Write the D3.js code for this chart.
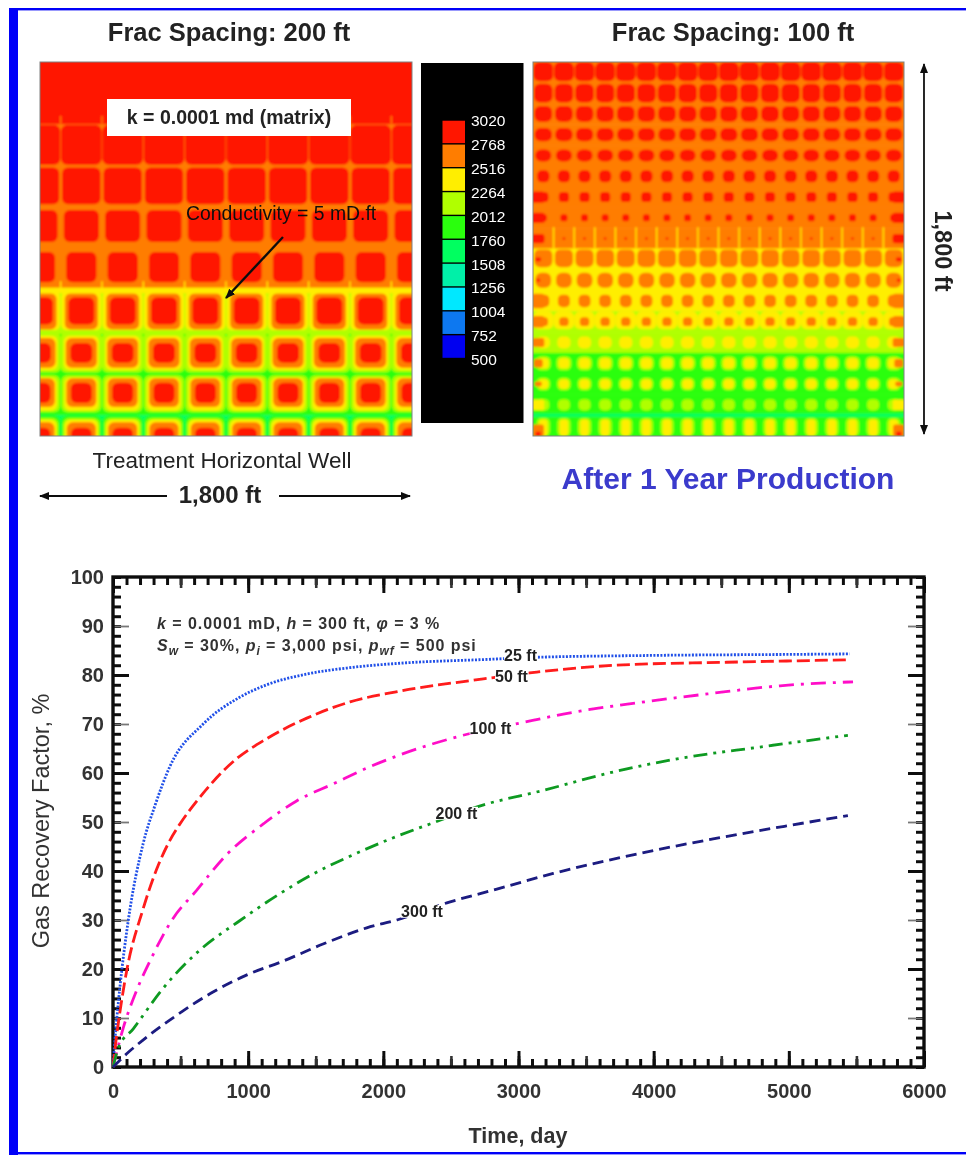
<!DOCTYPE html>
<html>
<head>
<meta charset="utf-8">
<script src="https://cdn.jsdelivr.net/npm/d3@7/dist/d3.min.js"></script>
<style>
  html, body { margin: 0; padding: 0; background: #fff; }
  svg { display: block; font-family: "Liberation Sans", Arial, sans-serif; }
</style>
</head>
<body>
<svg id="figure" width="966" height="1155"></svg>
<script>
// --- Pressure legend (psi) ---
const legendValues = [3020, 2768, 2516, 2264, 2012, 1760, 1508, 1256, 1004, 752, 500];
const legendColors = ["#0000f0", "#0878f0", "#00e8ff", "#00f0a8", "#00ff60", "#2cff10", "#b0ff00", "#ffee00", "#ff7d00", "#ff1400"];

// --- Fracture maps: each row is [y ft, background psi, [psi, half width, above, below] ...] ---
const rows200 = [
  [1600, 2900],
  [1400, 2640, [2900, 98, 97, 95]],
  [1200, 2640, [2900, 93, 92, 85]],
  [1000, 2640, [2900, 85, 88, 66]],
  [800, 2640, [2900, 73, 86, 60]],
  [600, 2140, [2390, 97, 100, 92], [2640, 80, 87, 87], [2900, 63, 68, 63]],
  [400, 1890, [2140, 100, 100, 94], [2390, 85, 82, 82], [2640, 75, 72, 72], [2900, 53, 48, 48]],
  [200, 1890, [2140, 96, 92, 84], [2390, 82, 82, 77], [2640, 72, 78, 60], [2900, 51, 56, 41]],
  [0, 1630, [1890, 97, 97, 100], [2140, 88, 85, 100], [2390, 80, 78, 100], [2640, 70, 66, 100], [2900, 50, 40, 100]]
];
const rows100 = [
  [1750, 2640, [2900, 48, 50, 43]],
  [1650, 2640, [2900, 45, 45, 45]],
  [1550, 2640, [2900, 43, 38, 38]],
  [1450, 2640, [2900, 42, 32, 32]],
  [1350, 2640, [2900, 39, 29, 29]],
  [1250, 2640, [2900, 30, 29, 29]],
  [1150, 2640, [2900, 25, 24, 24]],
  [1050, 2640, [2900, 17, 17, 17]],
  [950, 2640, [2900, 7, 5, 5]],
  [850, 2390, [2640, 44, 50, 38]],
  [750, 2390, [2640, 38, 36, 36]],
  [650, 2390, [2640, 29, 30, 30]],
  [550, 2140, [2390, 50, 50, 36], [2640, 23, 21, 21]],
  [450, 2140, [2390, 32, 29, 29]],
  [350, 1890, [2140, 36, 34, 34], [2390, 26, 24, 24]],
  [250, 1890, [2140, 33, 30, 30], [2390, 24, 22, 22]],
  [150, 1890, [2140, 29, 27, 27]],
  [50, 1890, [2140, 32, 36, 50], [2390, 20, 30, 50]]
];
const blocks200 = [0, 200, 400, 600, 800, 1000, 1200, 1400, 1600, 1800];
const blocks100 = [50, 150, 250, 350, 450, 550, 650, 750, 850, 950, 1050, 1150, 1250, 1350, 1450, 1550, 1650, 1750];
const fractures200 = [100, 300, 500, 700, 900, 1100, 1300, 1500, 1700];
const fractures100 = [100, 200, 300, 400, 500, 600, 700, 800, 900, 1000, 1100, 1200, 1300, 1400, 1500, 1600, 1700];
// horizontal fracture bands [y ft, half thickness, psi], vertical stubs [y0, y1, psi]
const bands200 = [[700, 14, 2390], [500, 9, 2140]];
const stubs200 = [[1500, 1540, 2640], [700, 745, 2390]];
const bands100 = [[900, 3, 2390], [100, 8, 1630]];
const stubs100 = [[900, 1005, 2390]];
// edge columns of the 100 ft map: [y ft, psi, half width, half height]
const edges100 = [
  [1150, 2900, 32, 27], [1050, 2900, 32, 25], [950, 2900, 30, 22], [850, 2900, 15, 10], [750, 2900, 10, 8],
  [650, 2640, 30, 35], [550, 2640, 30, 28], [450, 2640, 30, 22], [350, 2640, 22, 20], [250, 2640, 18, 12],
  [150, 2390, 30, 26], [25, 2640, 28, 30], [10, 2900, 14, 12]
];

// --- Gas recovery curves: [time day, recovery %] ---
const curve25 = [[0, 0], [10, 4], [25, 9], [50, 16], [113, 29.9], [224, 45.7], [311, 53.4], [422, 61.4], [667, 70], [940, 75.5], [1137, 78], [1434, 80.2], [1753, 81.5], [2123, 82.4], [2863, 83.3], [3000, 83.5], [4000, 84], [5000, 84.2], [5450, 84.3]];
const curve50 = [[0, 0], [25, 6], [50, 11], [101, 19.6], [222, 32.2], [325, 40.5], [422, 46.3], [500, 49.8], [621, 54.3], [888, 62.3], [1137, 67], [1434, 71.2], [1753, 74.5], [2123, 76.7], [2740, 79.2], [3135, 80.6], [3720, 82], [4540, 82.6], [5450, 83.1]];
const curve100 = [[0, 0], [76, 8], [176, 15.7], [287, 22.4], [434, 29.9], [620, 36.1], [840, 43.3], [1112, 49.6], [1358, 54.3], [1630, 57.8], [1877, 61], [2123, 63.7], [2590, 67.7], [3012, 70.2], [3405, 72.4], [3900, 74.4], [4417, 76.2], [4934, 77.8], [5475, 78.6]];
const curve200 = [[0, 0], [40, 3.9], [150, 7.8], [372, 16.1], [644, 23.9], [940, 29.9], [1236, 35.4], [1509, 39.8], [1776, 43.3], [2074, 46.8], [2345, 49.6], [2742, 53.5], [3160, 56.3], [3700, 60.2], [4195, 63], [4787, 65.3], [5437, 67.7]];
const curve300 = [[0, 0], [101, 2.7], [222, 5.5], [473, 10.6], [740, 15.3], [991, 18.8], [1258, 21.6], [1554, 25.1], [1877, 28.4], [2100, 30], [2470, 33.5], [2840, 36.3], [3257, 39.5], [3847, 43.3], [4490, 46.8], [4983, 49.2], [5437, 51.3]];
const curves = [
  { data: curve25, color: "#2050e8", dash: "2,1.5" },
  { data: curve50, color: "#ff1a1a", dash: "13,5" },
  { data: curve100, color: "#ff10c8", dash: "15,7,3,7" },
  { data: curve200, color: "#109a20", dash: "14,6,3,6,3,6" },
  { data: curve300, color: "#1a1a80", dash: "11,6" }
];
// labels sit at [time, recovery] on their curve
const curveLabels = [
  { text: "25 ft", t: 3015, rf: 83.9 },
  { text: "50 ft", t: 2948, rf: 79.8 },
  { text: "100 ft", t: 2793, rf: 69.2 },
  { text: "200 ft", t: 2541, rf: 51.8 },
  { text: "300 ft", t: 2286, rf: 31.8 }
];
const xLabels = [0, 1000, 2000, 3000, 4000, 5000, 6000];
const yLabels = [0, 10, 20, 30, 40, 50, 60, 70, 80, 90, 100];

const svg = d3.select("#figure");
const defs = svg.append("defs");

defs.append("marker")
  .attr("id", "head")
  .attr("viewBox", "0 0 10 8")
  .attr("refX", 9)
  .attr("refY", 4)
  .attr("markerWidth", 10)
  .attr("markerHeight", 8)
  .attr("markerUnits", "userSpaceOnUse")
  .attr("orient", "auto-start-reverse")
  .append("path")
  .attr("d", "M0,0L10,4L0,8Z")
  .attr("fill", "#111");

// scan-like softness: everything a little, the maps a little more
function softFilter(id, amount) {
  defs.append("filter")
    .attr("id", id)
    .attr("filterUnits", "userSpaceOnUse")
    .attr("x", 0).attr("y", 0).attr("width", 966).attr("height", 1155)
    .append("feGaussianBlur")
    .attr("stdDeviation", amount);
}
softFilter("soft", 0.75);
softFilter("softer", 0.8);

const root = svg.append("g").attr("filter", "url(#soft)");
const textLayer = svg.append("g").attr("filter", "url(#soft)");

const color = d3.scaleThreshold()
  .domain(legendValues.slice(0, -1).reverse())
  .range(legendColors);

function drawField(xRange, rows, blocks, fractures, bands, stubs, rowHalf, round, maxRound) {
  const x = d3.scaleLinear().domain([0, 1800]).range(xRange);
  const y = d3.scaleLinear().domain([0, 1800]).range([436, 62]);

  const g = root.append("g").attr("filter", "url(#softer)");

  // row backgrounds
  g.selectAll("rect.strip")
    .data(rows)
    .enter()
    .append("rect")
    .attr("class", "strip")
    .attr("x", xRange[0] - 5)
    .attr("width", xRange[1] - xRange[0] + 10)
    .attr("y", d => y(d[0] === rows[0][0] ? 1840 : d[0] + rowHalf))
    .attr("height", d => y(d[0] === rows[rows.length - 1][0] ? -40 : d[0] - rowHalf) - y(d[0] === rows[0][0] ? 1840 : d[0] + rowHalf) + 0.5)
    .attr("fill", d => color(d[1]));

  // contour islands, outer to inner
  const islands = rows.flatMap(r => r.slice(2).flatMap(l => blocks.map(cx => ({
    cx, cy: r[0], p: l[0], hw: l[1], above: l[2], below: l[3]
  }))));

  g.selectAll("rect.island")
    .data(islands)
    .enter()
    .append("rect")
    .attr("class", "island")
    .attr("x", d => x(d.cx - d.hw))
    .attr("width", d => x(d.cx + d.hw) - x(d.cx - d.hw))
    .attr("y", d => y(d.cy + d.above))
    .attr("height", d => y(d.cy - d.below) - y(d.cy + d.above))
    .attr("rx", d => Math.min(maxRound, round * (x(d.cx + d.hw) - x(d.cx - d.hw))))
    .attr("fill", d => color(d.p));

  // fracture bands and stubs
  g.selectAll("rect.band")
    .data(bands)
    .enter()
    .append("rect")
    .attr("class", "band")
    .attr("x", xRange[0] - 5)
    .attr("width", xRange[1] - xRange[0] + 10)
    .attr("y", d => y(d[0] + d[1]))
    .attr("height", d => y(d[0] - d[1]) - y(d[0] + d[1]))
    .attr("fill", d => color(d[2]));

  stubs.forEach(s => {
    g.selectAll(null)
      .data(fractures)
      .enter()
      .append("line")
      .attr("x1", d => x(d)).attr("x2", d => x(d))
      .attr("y1", y(s[0])).attr("y2", y(s[1]))
      .attr("stroke", color(s[2]))
      .attr("stroke-width", 1.4);
  });

  return { g, x, y, xRange };
}

// white frame hides what runs past the map edge
function trimField(field) {
  const [x0, x1] = field.xRange;
  const w = 24;
  [[x0 - w, 62 - w, x1 - x0 + 2 * w, w], [x0 - w, 436, x1 - x0 + 2 * w, w],
   [x0 - w, 62 - w, w, 374 + 2 * w], [x1, 62 - w, w, 374 + 2 * w]].forEach(r => {
    root.append("rect")
      .attr("x", r[0]).attr("y", r[1]).attr("width", r[2]).attr("height", r[3])
      .attr("fill", "#fff");
  });
  root.append("rect")
    .attr("x", x0).attr("y", 62)
    .attr("width", x1 - x0).attr("height", 374)
    .attr("fill", "none")
    .attr("stroke", "#808080")
    .attr("stroke-width", 1);
}

const map200 = drawField([40, 412], rows200, blocks200, fractures200, bands200, stubs200, 100, 0.3, 6);
const map100 = drawField([533, 904], rows100, blocks100, fractures100, bands100, stubs100, 50, 0.38, 6);

// edge blocks of the 100 ft map
[25, 1775].forEach(cx => {
  map100.g.selectAll(null)
    .data(edges100)
    .enter()
    .append("rect")
    .attr("x", d => map100.x(cx - d[2]))
    .attr("width", d => map100.x(cx + d[2]) - map100.x(cx - d[2]))
    .attr("y", d => map100.y(d[0] + d[3]))
    .attr("height", d => map100.y(d[0] - d[3]) - map100.y(d[0] + d[3]))
    .attr("rx", 2.5)
    .attr("fill", d => color(d[1]));
});

trimField(map200);
trimField(map100);

// --- Blue page frame ---
root.append("rect").attr("x", 9).attr("y", 8).attr("width", 9).attr("height", 1147).attr("fill", "#0000f8");
root.append("rect").attr("x", 9).attr("y", 8).attr("width", 957).attr("height", 2.4).attr("fill", "#0000f8");
root.append("rect").attr("x", 9).attr("y", 1152).attr("width", 957).attr("height", 2.4).attr("fill", "#0000f8");

// --- Colour bar ---
root.append("rect").attr("x", 421).attr("y", 63).attr("width", 102.5).attr("height", 360).attr("fill", "#000");

const legendY = d3.scaleLinear().domain([3020, 500]).range([120, 358.5]);
const legendCells = d3.pairs(legendValues);

root.selectAll("rect.cell")
  .data(legendCells)
  .enter()
  .append("rect")
  .attr("class", "cell")
  .attr("x", 442.5)
  .attr("width", 22.5)
  .attr("y", d => legendY(d[0]) + 0.7)
  .attr("height", d => legendY(d[1]) - legendY(d[0]) - 1.4)
  .attr("fill", d => color((d[0] + d[1]) / 2));

textLayer.append("g")
  .attr("transform", "translate(471,1)")
  .call(d3.axisRight(legendY).tickValues(legendValues).tickSize(0).tickPadding(0).tickFormat(d3.format("d")))
  .call(a => a.select(".domain").remove())
  .selectAll("text")
  .attr("fill", "#fff")
  .style("font-size", "15.5px")
  .style("font-family", "Liberation Sans");

// --- Map annotations ---
function label(text, x, y, size, weight, anchor, fill) {
  return textLayer.append("text")
    .attr("x", x).attr("y", y)
    .attr("text-anchor", anchor || "start")
    .attr("fill", fill || "#222")
    .style("font-size", size + "px")
    .style("font-weight", weight)
    .text(text);
}

function arrow(x1, y1, x2, y2, width) {
  root.append("line")
    .attr("x1", x1).attr("y1", y1).attr("x2", x2).attr("y2", y2)
    .attr("stroke", "#111")
    .attr("stroke-width", width)
    .attr("marker-end", "url(#head)");
}

label("Frac Spacing: 200 ft", 229, 41, 25.5, "bold", "middle");
label("Frac Spacing: 100 ft", 733, 41, 25.5, "bold", "middle");

root.append("rect").attr("x", 107).attr("y", 99).attr("width", 244).attr("height", 37).attr("fill", "#fff");
label("k = 0.0001 md (matrix)", 229, 124, 19.5, "bold", "middle");
label("Conductivity = 5 mD.ft", 186, 220, 19.4, "normal", "start", "#111");
arrow(283, 237, 226, 298, 2.4);

label("Treatment Horizontal Well", 222, 468, 22.5, "normal", "middle");
label("1,800 ft", 220, 503, 24, "bold", "middle");
arrow(167, 496, 40, 496, 1.8);
arrow(279, 496, 410, 496, 1.8);

arrow(924, 100, 924, 64, 1.8);
arrow(924, 100, 924, 434, 1.8);
textLayer.append("text")
  .attr("transform", "translate(935,251) rotate(90)")
  .attr("text-anchor", "middle")
  .attr("fill", "#222")
  .style("font-size", "23.5px")
  .style("font-weight", "bold")
  .text("1,800 ft");

label("After 1 Year Production", 728, 489, 30, "bold", "middle", "#3a3acc");

// --- Recovery chart ---
const margin = { top: 577, right: 42, bottom: 88, left: 113 };
const plotWidth = 966 - margin.left - margin.right;
const plotHeight = 1155 - margin.top - margin.bottom;

const g = root.append("g").attr("transform", `translate(${margin.left},${margin.top})`);
const gText = textLayer.append("g").attr("transform", `translate(${margin.left},${margin.top})`);

const x = d3.scaleLinear().domain([0, 6000]).range([0, plotWidth]);
const y = d3.scaleLinear().domain([0, 100]).range([plotHeight, 0]);

const line = d3.line()
  .x(d => x(d[0]))
  .y(d => y(d[1]))
  .curve(d3.curveMonotoneX);

function ticks(values, length, width, stroke) {
  const styleAxis = a => {
    a.select(".domain").remove();
    a.selectAll("text").remove();
    a.selectAll("line").attr("stroke", stroke).attr("stroke-width", width);
  };
  g.append("g").attr("transform", `translate(0,${plotHeight})`)
    .call(d3.axisBottom(x).tickValues(values.x).tickSize(-length)).call(styleAxis);
  g.append("g")
    .call(d3.axisTop(x).tickValues(values.x).tickSize(-length)).call(styleAxis);
  g.append("g")
    .call(d3.axisLeft(y).tickValues(values.y).tickSize(-length)).call(styleAxis);
  g.append("g").attr("transform", `translate(${plotWidth},0)`)
    .call(d3.axisRight(y).tickValues(values.y).tickSize(-length)).call(styleAxis);
}

ticks({ x: d3.range(0, 6001, 100), y: d3.range(0, 101, 2) }, 8, 3, "#111");
ticks({ x: d3.range(0, 6001, 500), y: [] }, 11, 2.6, "#333");
ticks({ x: xLabels, y: d3.range(20, 100, 20) }, 16, 3, "#111");
ticks({ x: [], y: d3.range(10, 100, 20) }, 16, 1.8, "#777");

g.append("rect")
  .attr("width", plotWidth)
  .attr("height", plotHeight)
  .attr("fill", "none")
  .attr("stroke", "#111")
  .attr("stroke-width", 3.4);

g.selectAll("path.curve")
  .data(curves)
  .enter()
  .append("path")
  .attr("class", "curve")
  .attr("fill", "none")
  .attr("stroke", d => d.color)
  .attr("stroke-width", 2.8)
  .attr("stroke-dasharray", d => d.dash)
  .attr("d", d => line(d.data));

// curve labels break their lines with a white backing
curveLabels.forEach(d => {
  const t = gText.append("text")
    .attr("x", x(d.t)).attr("y", y(d.rf))
    .attr("text-anchor", "middle")
    .attr("dy", "0.35em")
    .attr("fill", "#222")
    .style("font-size", "16px")
    .style("font-weight", "bold")
    .text(d.text);
  const box = t.node().getBBox();
  g.append("rect")
    .attr("x", box.x).attr("y", box.y + 2)
    .attr("width", box.width).attr("height", box.height - 4)
    .attr("fill", "#fff");
});

const xAxis = d3.axisBottom(x).tickValues(xLabels).tickSize(0).tickPadding(17).tickFormat(d3.format("d"));
const yAxis = d3.axisLeft(y).tickValues(yLabels).tickSize(0).tickPadding(9).tickFormat(d3.format("d"));

[
  gText.append("g").attr("transform", `translate(0,${plotHeight})`).call(xAxis),
  gText.append("g").call(yAxis)
].forEach(a => {
  a.select(".domain").remove();
  a.selectAll("text")
    .attr("fill", "#333")
    .style("font-size", "20px")
    .style("font-weight", "bold")
    .style("font-family", "Liberation Sans");
});

label("Time, day", 518, 1143, 21.5, "bold", "middle", "#333");
textLayer.append("text")
  .attr("transform", "translate(49,821) rotate(-90)")
  .attr("text-anchor", "middle")
  .attr("fill", "#333")
  .style("font-size", "23.5px")
  .text("Gas Recovery Factor, %");

// parameter note, mixed italics and subscripts
function note(yPos, parts) {
  const t = textLayer.append("text")
    .attr("x", 157).attr("y", yPos)
    .attr("fill", "#333")
    .style("font-size", "16px")
    .style("font-weight", "bold")
    .style("letter-spacing", "0.95px");
  parts.forEach(p => {
    const s = t.append("tspan").text(p.text);
    if (p.italic) s.style("font-style", "italic");
    if (p.sub) s.attr("dy", 4).style("font-size", "12px");
    if (p.back) s.attr("dy", -4);
  });
}

note(629, [
  { text: "k", italic: true }, { text: " = 0.0001 mD, " },
  { text: "h", italic: true }, { text: " = 300 ft, " },
  { text: "φ", italic: true }, { text: " = 3 %" }
]);
note(651, [
  { text: "S", italic: true }, { text: "w", italic: true, sub: true }, { text: " = 30%, ", back: true },
  { text: "p", italic: true }, { text: "i", italic: true, sub: true }, { text: " = 3,000 psi, ", back: true },
  { text: "p", italic: true }, { text: "wf", italic: true, sub: true }, { text: " = 500 psi", back: true }
]);
</script>
</body>
</html>
